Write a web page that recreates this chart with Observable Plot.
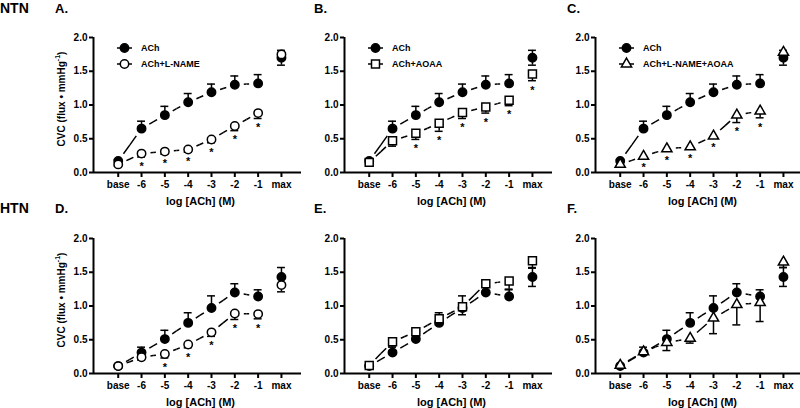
<!DOCTYPE html>
<html>
<head>
<meta charset="utf-8">
<script src="https://cdn.jsdelivr.net/npm/d3@7"></script>
<script src="https://cdn.jsdelivr.net/npm/@observablehq/plot@0.6"></script>
<style>
  body { margin: 0; background: #fff; }
  #root { position: relative; width: 800px; height: 408px; overflow: hidden; background: #fff;
          font-family: "Liberation Sans", Arial, sans-serif; font-weight: bold; }
  .panel { position: absolute; }
  #overlay { position: absolute; left: 0; top: 0; }
</style>
</head>
<body>
<div id="root"></div>
<script>
// ---------- data ----------
const doses = ["base", "-6", "-5", "-4", "-3", "-2", "-1", "max"];

// NTN (normotensive)
const achNTN      = [0.17, 0.65, 0.85, 1.04, 1.19, 1.30, 1.32, 1.70];
const achNTNsem   = [0.02, 0.11, 0.13, 0.13, 0.12, 0.13, 0.13, 0.11];
const lnameNTN    = [0.12, 0.28, 0.31, 0.34, 0.49, 0.69, 0.88, 1.75];
const lnameNTNsem = [0.02, 0.05, 0.04, 0.04, 0.05, 0.07, 0.08, 0.05];
const lnameNTNsig = [0, 1, 1, 1, 1, 1, 1, 0];
const aoaaNTN     = [0.15, 0.47, 0.58, 0.73, 0.89, 0.97, 1.07, 1.46];
const aoaaNTNsem  = [0.02, 0.08, 0.09, 0.12, 0.09, 0.09, 0.08, 0.10];
const aoaaNTNsig  = [0, 0, 1, 1, 1, 1, 1, 1];
const comboNTN    = [0.12, 0.24, 0.35, 0.38, 0.54, 0.85, 0.91, 1.78];
const comboNTNsem = [0.02, 0.03, 0.03, 0.03, 0.03, 0.11, 0.10, 0.04];
const comboNTNsig = [0, 1, 1, 1, 1, 1, 1, 0];

// HTN (hypertensive)
const achHTN      = [0.11, 0.31, 0.51, 0.75, 0.97, 1.20, 1.14, 1.43];
const achHTNsem   = [0.01, 0.08, 0.13, 0.15, 0.18, 0.13, 0.10, 0.14];
const lnameHTN    = [0.11, 0.24, 0.29, 0.43, 0.61, 0.89, 0.88, 1.31];
const lnameHTNsem = [0.01, 0.04, 0.06, 0.05, 0.06, 0.09, 0.07, 0.10];
const lnameHTNsig = [0, 0, 1, 1, 1, 1, 1, 0];
const aoaaHTN     = [0.12, 0.47, 0.62, 0.81, 0.99, 1.33, 1.37, 1.67];
const aoaaHTNsem  = [0.01, 0.06, 0.05, 0.09, 0.12, 0.04, 0.12, 0.11];
const aoaaHTNsig  = [0, 0, 0, 0, 0, 0, 0, 0];
const comboHTN    = [0.12, 0.32, 0.46, 0.52, 0.82, 1.02, 1.05, 1.65];
const comboHTNsem = [0.01, 0.03, 0.12, 0.07, 0.23, 0.30, 0.28, 0.08];
const comboHTNsig = [0, 0, 0, 0, 0, 0, 0, 0];

const yTicks = [0, 0.5, 1.0, 1.5, 2.0];
const rowLabels = ["NTN", "HTN"];
const panelLetters = ["A.", "B.", "C.", "D.", "E.", "F."];
const treatmentNames = ["ACh+L-NAME", "ACh+AOAA", "ACh+L-NAME+AOAA"];
const treatmentSymbols = ["circle", "square", "triangle"];
const yTitle = "CVC (flux \u2022 mmHg";

// ---------- layout ----------
const AXIS_X = [93, 344, 595];
const ROW_TOP = [0, 201];
const ML = 40, MR = 2, MT = 37, MB = 35, W = 250, H = 207;
const SYM_R = {circle: 4.2, square: 4.5, triangle: 3.8};
const FONT = '"Liberation Sans", Arial, sans-serif';

const panels = [
  {row: 0, col: 0, ach: achNTN, achSem: achNTNsem, trt: lnameNTN, trtSem: lnameNTNsem, sig: lnameNTNsig, t: 0},
  {row: 0, col: 1, ach: achNTN, achSem: achNTNsem, trt: aoaaNTN,  trtSem: aoaaNTNsem,  sig: aoaaNTNsig,  t: 1},
  {row: 0, col: 2, ach: achNTN, achSem: achNTNsem, trt: comboNTN, trtSem: comboNTNsem, sig: comboNTNsig, t: 2},
  {row: 1, col: 0, ach: achHTN, achSem: achHTNsem, trt: lnameHTN, trtSem: lnameHTNsem, sig: lnameHTNsig, t: 0},
  {row: 1, col: 1, ach: achHTN, achSem: achHTNsem, trt: aoaaHTN,  trtSem: aoaaHTNsem,  sig: aoaaHTNsig,  t: 1},
  {row: 1, col: 2, ach: achHTN, achSem: achHTNsem, trt: comboHTN, trtSem: comboHTNsem, sig: comboHTNsig, t: 2}
];

const root = document.getElementById("root");

function makePanel(p) {
  const series = [
    {key: "ach", mean: p.ach, sem: p.achSem, symbol: "circle", fill: "black"},
    {key: "trt", mean: p.trt, sem: p.trtSem, symbol: treatmentSymbols[p.t], fill: "white"}
  ];
  const marks = [];
  // axis lines
  marks.push(Plot.ruleY([0], {stroke: "black", strokeWidth: 2}));
  marks.push(Plot.ruleX([-1.06], {y1: 0, y2: 2, stroke: "black", strokeWidth: 2}));
  marks.push(Plot.axisY({ticks: yTicks, tickFormat: d3.format(".1f"), tickSize: 4, tickPadding: 2,
                         strokeWidth: 2, label: null}));
  marks.push(Plot.axisX({ticks: d3.range(doses.length), tickFormat: i => doses[i], tickSize: 5,
                         tickPadding: 3, strokeWidth: 2, label: null}));
  marks.push(Plot.text(["log [ACh] (M)"], {frameAnchor: "bottom", dy: 32, dx: 3, lineAnchor: "bottom",
                         fontSize: 11, fontWeight: "bold", fill: "black"}));

  series.forEach(s => {
    const pts = s.mean.map((v, i) => ({i, mean: v, sem: s.sem[i]}));
    // error bars
    const errs = [];
    pts.forEach(d => {
      if (s.key === "ach") errs.push({i: d.i, y1: d.mean, y2: d.mean + d.sem});
      if (s.key === "trt" || d.i === doses.length - 1) errs.push({i: d.i, y1: d.mean, y2: d.mean - d.sem});
    });
    marks.push(Plot.ruleX(errs, {x: "i", y1: "y1", y2: "y2", stroke: "black", strokeWidth: 1.5}));
    marks.push(Plot.ruleY(errs, {y: "y2", x1: d => d.i - 0.17, x2: d => d.i + 0.17, stroke: "black", strokeWidth: 1.5}));
    // dashed connections (base .. -1), each half drawn from a marker to the segment midpoint
    const halves = [];
    for (let i = 0; i < doses.length - 2; i++) {
      const mx = i + 0.5, my = (s.mean[i] + s.mean[i + 1]) / 2;
      halves.push({x1: i, y1: s.mean[i], x2: mx, y2: my});
      halves.push({x1: i + 1, y1: s.mean[i + 1], x2: mx, y2: my});
    }
    marks.push(Plot.link(halves, {x1: "x1", y1: "y1", x2: "x2", y2: "y2", stroke: "black",
                                   strokeWidth: 1.5, strokeDasharray: "0,9,1000", strokeLinecap: "butt"}));
    s.pts = pts;
  });
  series.forEach(s => {
    marks.push(Plot.dot(s.pts, {x: "i", y: "mean", symbol: s.symbol, r: SYM_R[s.symbol],
                                fill: s.fill, stroke: "black", strokeWidth: 1.5}));
  });
  // significance asterisks
  const sigPts = series[1].pts.filter(d => p.sig[d.i]);
  marks.push(Plot.text(sigPts, {x: "i", y: d => d.mean - d.sem, text: () => "*", lineAnchor: "top",
                                dy: 5, fontSize: 11, fontWeight: "bold", fill: "black"}));

  const chart = Plot.plot({
    width: W, height: H,
    marginLeft: ML, marginRight: MR, marginTop: MT, marginBottom: MB,
    x: {type: "linear", domain: [-1.06, 7.86]},
    y: {domain: [0, 2]},
    style: {fontFamily: FONT, fontSize: "10px", fontWeight: "bold", color: "black", background: "transparent"},
    marks
  });
  chart.classList.add("panel");
  chart.style.left = (AXIS_X[p.col] - ML) + "px";
  chart.style.top = ROW_TOP[p.row] + "px";
  root.appendChild(chart);
}

panels.forEach(makePanel);

// ---------- overlay: row labels, panel letters, y titles, legends ----------
const svg = d3.select(root).append("svg").attr("id", "overlay")
  .attr("width", 800).attr("height", 408)
  .style("font-family", FONT).style("font-weight", "bold");

const baseY = [13, 213];
rowLabels.forEach((t, r) => {
  svg.append("text").attr("x", 0).attr("y", baseY[r]).attr("font-size", 14).text(t);
});
const letterX = [55, 314, 567];
panelLetters.forEach((t, k) => {
  svg.append("text").attr("x", letterX[k % 3]).attr("y", baseY[Math.floor(k / 3)]).attr("font-size", 13).text(t);
});
[0, 1].forEach(r => {
  const cy = ROW_TOP[r] + MT + 62;
  const t = svg.append("text").attr("transform", `translate(61,${cy}) rotate(-90)`)
    .attr("text-anchor", "middle").attr("dominant-baseline", "central").attr("font-size", 10);
  t.append("tspan").text(yTitle);
  t.append("tspan").attr("font-size", 7).attr("dy", -4).text("-1");
  t.append("tspan").attr("dy", 4).text(")");
});
// legends (top row)
[0, 1, 2].forEach(c => {
  const ax = AXIS_X[c];
  const items = [
    {label: "ACh", symbol: "circle", fill: "black"},
    {label: treatmentNames[c], symbol: treatmentSymbols[c], fill: "white"}
  ];
  items.forEach((it, k) => {
    const y = 48 + k * 16;
    svg.append("line").attr("x1", ax + 24).attr("x2", ax + 39).attr("y1", y).attr("y2", y)
      .attr("stroke", "black").attr("stroke-width", 1.5);
    const sym = {circle: d3.symbolCircle, square: d3.symbolSquare, triangle: d3.symbolTriangle}[it.symbol];
    const r = SYM_R[it.symbol];
    svg.append("path").attr("d", d3.symbol(sym, Math.PI * r * r)())
      .attr("transform", `translate(${ax + 31.5},${y})`)
      .attr("fill", it.fill).attr("stroke", "black").attr("stroke-width", 1.5);
    svg.append("text").attr("x", ax + 48).attr("y", y).attr("dominant-baseline", "central")
      .attr("font-size", 9).text(it.label);
  });
});
</script>
</body>
</html>
